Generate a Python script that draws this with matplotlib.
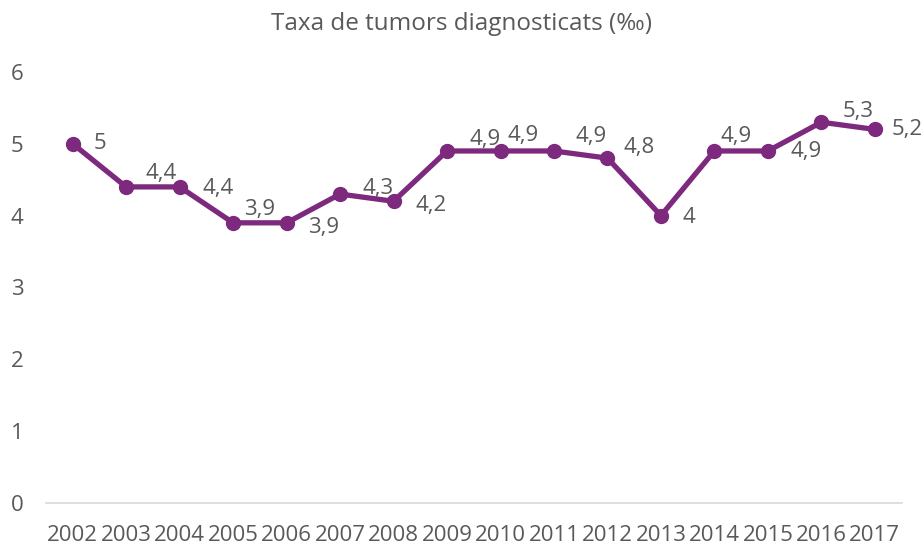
import matplotlib.pyplot as plt

plt.rcParams['font.family'] = ['Open Sans', 'DejaVu Sans']

# data
years = ['2002', '2003', '2004', '2005', '2006', '2007', '2008', '2009',
         '2010', '2011', '2012', '2013', '2014', '2015', '2016', '2017']
rates = [5.0, 4.4, 4.4, 3.9, 3.9, 4.3, 4.2, 4.9,
         4.9, 4.9, 4.8, 4.0, 4.9, 4.9, 5.3, 5.2]
value_labels = ['5', '4,4', '4,4', '3,9', '3,9', '4,3', '4,2', '4,9',
                '4,9', '4,9', '4,8', '4', '4,9', '4,9', '5,3', '5,2']
yticks = [0, 1, 2, 3, 4, 5, 6]

# label placement (pixel offsets from each point, as in the original)
label_offsets = [(27, 0), (35, 13), (38, -2), (26, 13), (37, -5), (38, 6),
                 (38, -4), (38, 11), (23, 15), (37, 14), (32, 11), (28, -2),
                 (22, 14), (38, -1), (37, 11), (32, 0)]

purple = '#7d2a7e'
grey = '#595959'

fig = plt.figure(figsize=(9.23, 5.45), dpi=100)
ax = fig.add_axes([0.0498, 0.077, 0.927, 0.791])

x = list(range(len(years)))
ax.plot(x, rates, color=purple, linewidth=3.8, marker='o', markersize=10,
        solid_joinstyle='round', zorder=3)

for xi, yi, lab, (dx, dy) in zip(x, rates, value_labels, label_offsets):
    ax.annotate(lab, (xi, yi), xytext=(dx, dy), textcoords='offset pixels',
                ha='center', va='center', fontsize=16, color=grey)

ax.set_xlim(-0.5, len(years) - 0.5)
ax.set_ylim(0, 6)
ax.set_xticks(x)
ax.set_xticklabels(years)
ax.set_yticks(yticks)
ax.set_yticklabels([str(t) for t in yticks])
ax.tick_params(axis='both', length=0, labelsize=16, colors=grey)
ax.tick_params(axis='x', pad=16)
ax.tick_params(axis='y', pad=16)

for side in ['top', 'right', 'left']:
    ax.spines[side].set_visible(False)
ax.spines['bottom'].set_color('#d9d9d9')
ax.spines['bottom'].set_linewidth(1.2)

fig.suptitle('Taxa de tumors diagnosticats (‰)', x=0.5, y=0.978,
             fontsize=17.5, color=grey)

fig.savefig('out.png', dpi=100)
